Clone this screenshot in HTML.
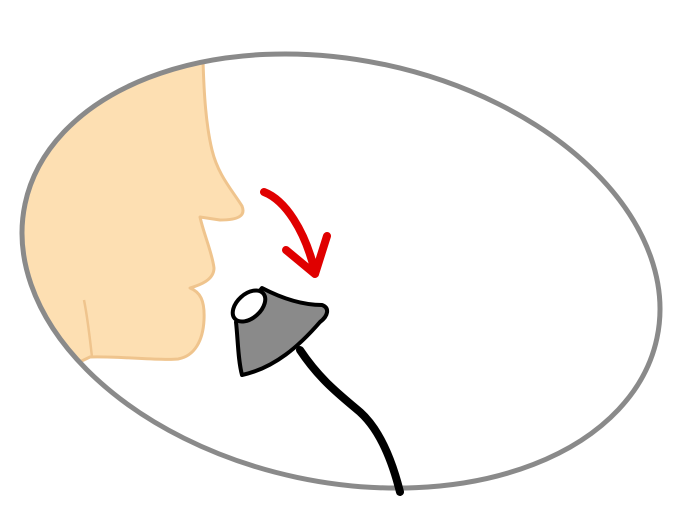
<!DOCTYPE html>
<html><head><meta charset="utf-8"><style>html,body{margin:0;padding:0;background:#fff}svg{display:block}</style></head>
<body>
<svg width="698" height="532" viewBox="0 0 698 532">
<defs><clipPath id="ec"><ellipse cx="341" cy="271" rx="323" ry="211" transform="rotate(12 341 271)"/></clipPath></defs>
<g clip-path="url(#ec)">
<path d="M0,40 L203,60 C204,95 206,125 212,150 C218,175 232,190 242,206 C246,216 238,220 220,220 L200,217 C204,235 212,252 214,268 C214,280 200,285 190,288 C200,292 205,300 204,320 C203,340 195,356 178,359 C160,361 120,356 90,357 L0,400 Z" fill="#fddfb2" stroke="#efc48d" stroke-width="3" stroke-linejoin="round"/>
<path d="M84,300 C88,320 90,340 92,357" fill="none" stroke="#efc48d" stroke-width="2.5"/>
</g>
<ellipse cx="341" cy="271" rx="323" ry="211" transform="rotate(12 341 271)" fill="none" stroke="#8a8a8a" stroke-width="5"/>
<g fill="none" stroke="#e00000" stroke-width="8" stroke-linecap="round" stroke-linejoin="round">
<path d="M264,192 C285,200 305,230 315,272"/>
<path d="M286,250 L315,274 L327,236"/>
</g>
<path d="M300,350 C320,380 340,395 360,412 C380,430 392,460 400,492" fill="none" stroke="#000" stroke-width="8" stroke-linecap="round"/>
<g>
<path d="M262,288 C285,300 305,305 322,305 C330,308 328,316 320,322 C300,345 275,368 242,375 C238,360 238,340 236,322 Z" fill="#8a8a8a" stroke="#000" stroke-width="4" stroke-linejoin="round"/>
<ellipse cx="249" cy="306" rx="19" ry="12" transform="rotate(-42 249 306)" fill="#fff" stroke="#000" stroke-width="4"/>
</g>
</svg>
</body></html>
